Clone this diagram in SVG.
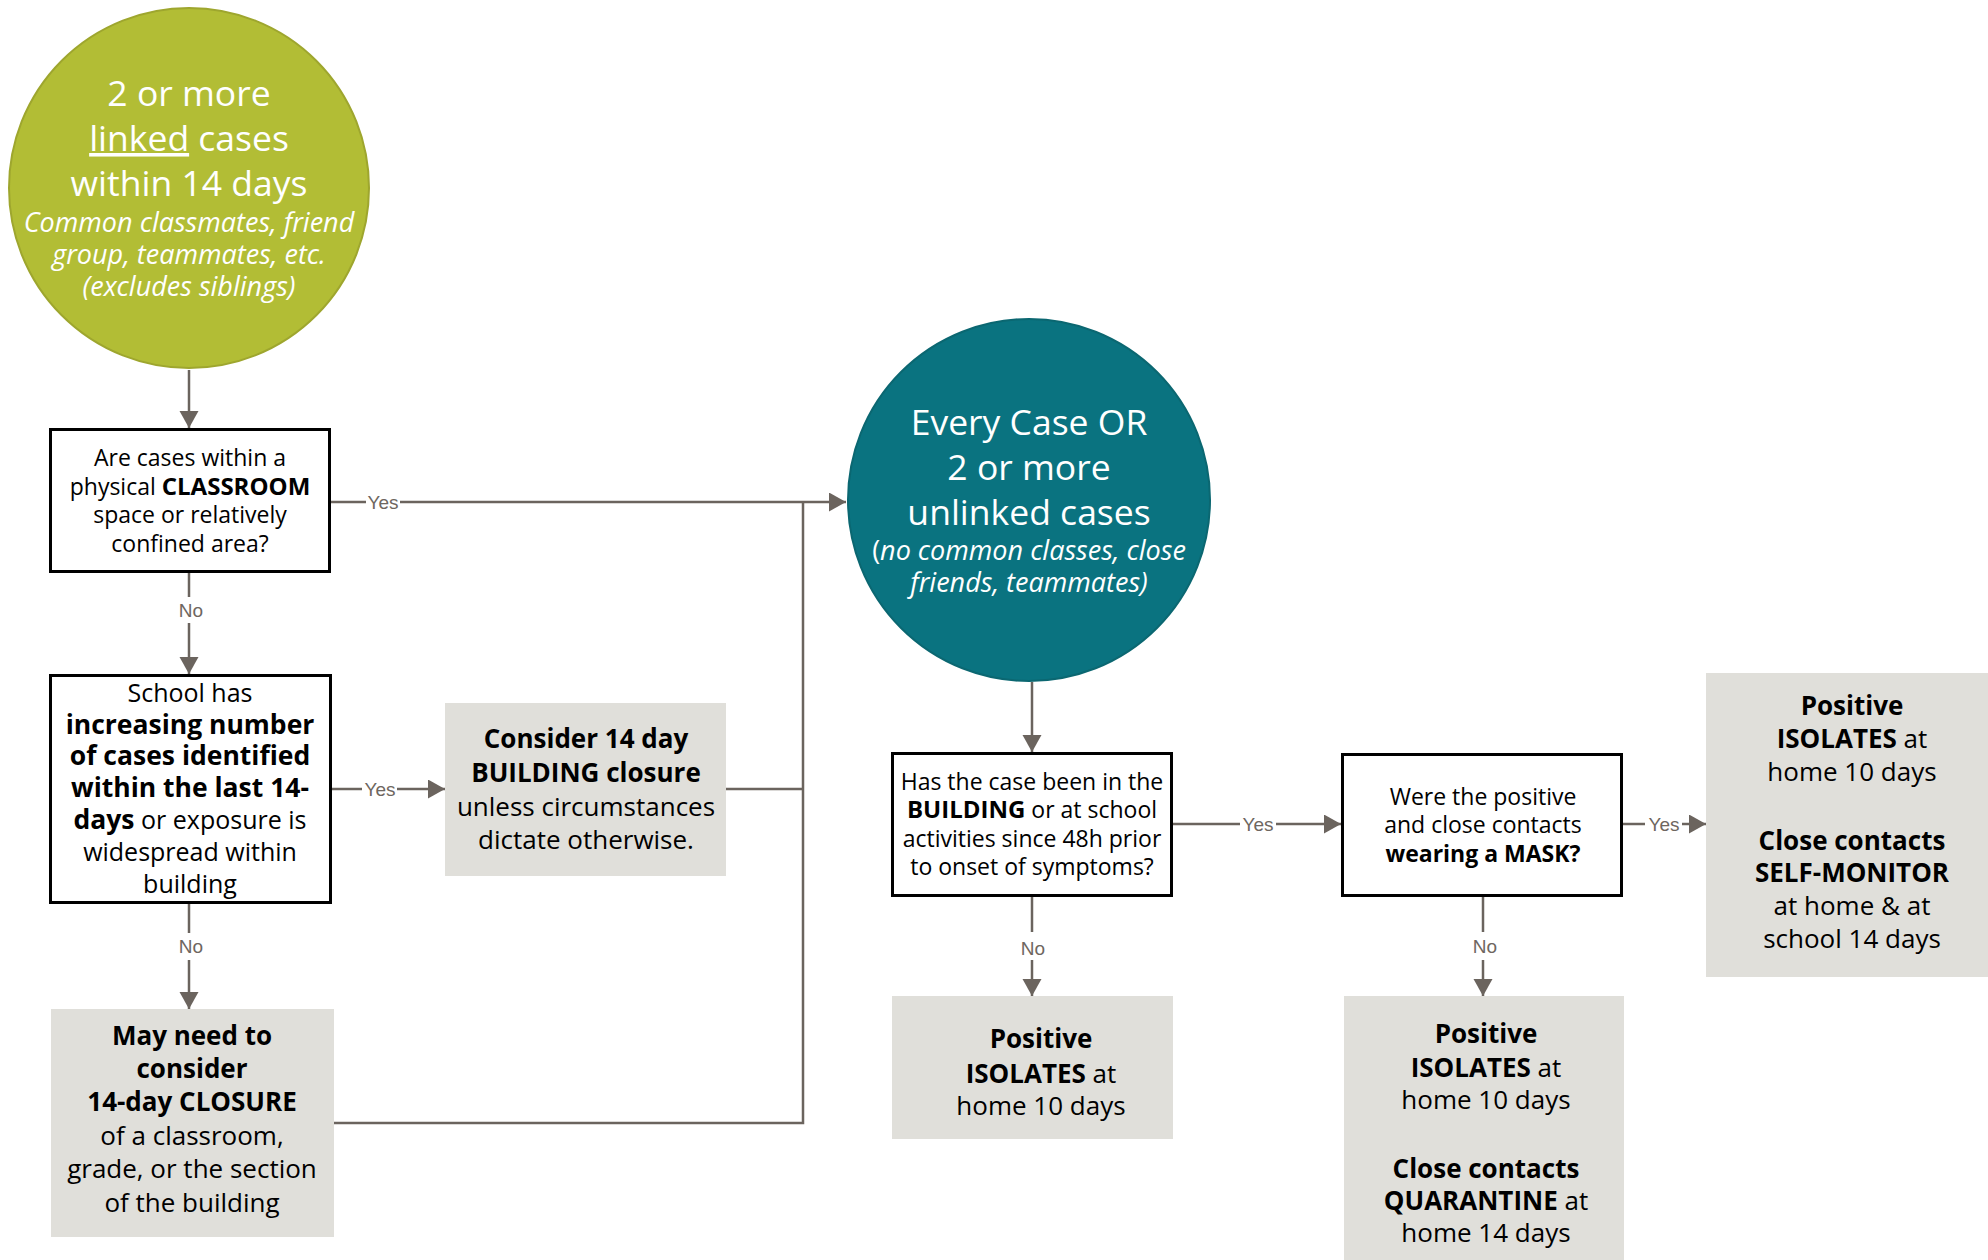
<svg xmlns="http://www.w3.org/2000/svg" width="1988" height="1260" viewBox="0 0 1988 1260">
<defs>
<marker id="arr" markerUnits="userSpaceOnUse" markerWidth="18" markerHeight="20" refX="17" refY="9.5" orient="auto">
<path d="M0,0 L17,9.5 L0,19 z" fill="#6b645e"/>
</marker>
<style>
.conn{fill:none;stroke:#6b645e;stroke-width:2.5}
.lbl{font-family:"Liberation Sans",Arial,sans-serif;font-size:19px;fill:#6e6660;text-anchor:middle}
.qbox{fill:#fff;stroke:#000;stroke-width:3}
.gbox{fill:#e0dfda}
.t{font-family:"Open Sans","Noto Sans",sans-serif;fill:#000;text-anchor:middle}
.q{font-size:23px}
.qb{font-size:24px;font-weight:700}
.q2{font-size:25px}
.q2b{font-size:26.5px;font-weight:700}
.g{font-size:26px}
.c{font-size:35.5px;fill:#fff}
.ci{font-size:27px;font-style:italic;fill:#fff}
.b{font-weight:700}
</style>
</defs>
<rect width="1988" height="1260" fill="#fff"/>

<g id="connectors">
<path class="conn" d="M189,370 V428" marker-end="url(#arr)"/>
<path class="conn" d="M331,502 H366"/>
<path class="conn" d="M400,502 H846" marker-end="url(#arr)"/>
<path class="conn" d="M189,573 V597"/>
<path class="conn" d="M189,623 V674" marker-end="url(#arr)"/>
<path class="conn" d="M332,789 H362"/>
<path class="conn" d="M397,789 H445" marker-end="url(#arr)"/>
<path class="conn" d="M726,789 H803"/>
<path class="conn" d="M334,1123 H803 V502"/>
<path class="conn" d="M189,904 V933"/>
<path class="conn" d="M189,960 V1009" marker-end="url(#arr)"/>
<path class="conn" d="M1032,682 V752" marker-end="url(#arr)"/>
<path class="conn" d="M1173,824 H1240"/>
<path class="conn" d="M1276,824 H1341" marker-end="url(#arr)"/>
<path class="conn" d="M1032,897 V932"/>
<path class="conn" d="M1032,960 V996" marker-end="url(#arr)"/>
<path class="conn" d="M1623,824 H1645"/>
<path class="conn" d="M1682,824 H1706" marker-end="url(#arr)"/>
<path class="conn" d="M1483,897 V932"/>
<path class="conn" d="M1483,960 V996" marker-end="url(#arr)"/>
<text class="lbl" x="383" y="509">Yes</text>
<text class="lbl" x="191" y="617">No</text>
<text class="lbl" x="380" y="796">Yes</text>
<text class="lbl" x="191" y="953">No</text>
<text class="lbl" x="1258" y="831">Yes</text>
<text class="lbl" x="1033" y="955">No</text>
<text class="lbl" x="1664" y="831">Yes</text>
<text class="lbl" x="1485" y="953">No</text>
</g>

<g id="linked-cases">
<circle cx="189" cy="188" r="180" fill="#b2bd35" stroke="#9ea62e" stroke-width="2"/>
<text class="t c" x="189" y="106">2 or more</text>
<text class="t c" x="189" y="151"><tspan text-decoration="underline">linked</tspan> cases</text>
<text class="t c" x="189" y="196">within 14 days</text>
<text class="t ci" x="189" y="232">Common classmates, friend</text>
<text class="t ci" x="189" y="264">group, teammates, etc.</text>
<text class="t ci" x="189" y="296">(excludes siblings)</text>
</g>

<g id="classroom-question">
<rect class="qbox" x="50.5" y="429.5" width="279" height="142"/>
<text class="t q" x="190" y="466">Are cases within a</text>
<text class="t q" x="190" y="495">physical <tspan class="qb">CLASSROOM</tspan></text>
<text class="t q" x="190" y="523">space or relatively</text>
<text class="t q" x="190" y="552">confined area?</text>
</g>

<g id="increasing-question">
<rect class="qbox" x="50.5" y="675.5" width="280" height="227"/>
<text class="t q2" x="190" y="702">School has</text>
<text class="t q2b" x="190" y="734">increasing number</text>
<text class="t q2b" x="190" y="765">of cases identified</text>
<text class="t q2b" x="190" y="797">within the last 14-</text>
<text class="t q2" x="190" y="829"><tspan class="q2b">days</tspan> or exposure is</text>
<text class="t q2" x="190" y="861">widespread within</text>
<text class="t q2" x="190" y="893">building</text>
</g>

<g id="building-closure">
<rect class="gbox" x="445" y="703" width="281" height="173"/>
<text class="t g b" x="586" y="748">Consider 14 day</text>
<text class="t g b" x="586" y="782">BUILDING closure</text>
<text class="t g" x="586" y="816">unless circumstances</text>
<text class="t g" x="586" y="849">dictate otherwise.</text>
</g>

<g id="section-closure">
<rect class="gbox" x="51" y="1009" width="283" height="228"/>
<text class="t g b" x="192" y="1045">May need to</text>
<text class="t g b" x="192" y="1078">consider</text>
<text class="t g b" x="192" y="1111">14-day CLOSURE</text>
<text class="t g" x="192" y="1145">of a classroom,</text>
<text class="t g" x="192" y="1178">grade, or the section</text>
<text class="t g" x="192" y="1212">of the building</text>
</g>

<g id="unlinked-cases">
<circle cx="1029" cy="500" r="181" fill="#0a7380" stroke="#0b6771" stroke-width="2"/>
<text class="t c" x="1029" y="435">Every Case OR</text>
<text class="t c" x="1029" y="480">2 or more</text>
<text class="t c" x="1029" y="525">unlinked cases</text>
<text class="t ci" x="1029" y="560"><tspan font-style="normal">(</tspan>no common classes, close</text>
<text class="t ci" x="1029" y="592">friends, teammates)</text>
</g>

<g id="building-question">
<rect class="qbox" x="892.5" y="753.5" width="279" height="142"/>
<text class="t q" x="1032" y="790">Has the case been in the</text>
<text class="t q" x="1032" y="818"><tspan class="qb">BUILDING</tspan> or at school</text>
<text class="t q" x="1032" y="847">activities since 48h prior</text>
<text class="t q" x="1032" y="875">to onset of symptoms?</text>
</g>

<g id="isolate-only">
<rect class="gbox" x="892" y="996" width="281" height="143"/>
<text class="t g b" x="1041" y="1048">Positive</text>
<text class="t g" x="1041" y="1083"><tspan class="b">ISOLATES</tspan> at</text>
<text class="t g" x="1041" y="1115">home 10 days</text>
</g>

<g id="mask-question">
<rect class="qbox" x="1342.5" y="754.5" width="279" height="141"/>
<text class="t q" x="1483" y="805">Were the positive</text>
<text class="t q" x="1483" y="833">and close contacts</text>
<text class="t q b" x="1483" y="862">wearing a MASK?</text>
</g>

<g id="self-monitor">
<rect class="gbox" x="1706" y="673" width="282" height="304"/>
<text class="t g b" x="1852" y="715">Positive</text>
<text class="t g" x="1852" y="748"><tspan class="b">ISOLATES</tspan> at</text>
<text class="t g" x="1852" y="781">home 10 days</text>
<text class="t g b" x="1852" y="850">Close contacts</text>
<text class="t g b" x="1852" y="882">SELF-MONITOR</text>
<text class="t g" x="1852" y="915">at home &amp; at</text>
<text class="t g" x="1852" y="948">school 14 days</text>
</g>

<g id="quarantine">
<rect class="gbox" x="1344" y="996" width="280" height="264"/>
<text class="t g b" x="1486" y="1043">Positive</text>
<text class="t g" x="1486" y="1077"><tspan class="b">ISOLATES</tspan> at</text>
<text class="t g" x="1486" y="1109">home 10 days</text>
<text class="t g b" x="1486" y="1178">Close contacts</text>
<text class="t g" x="1486" y="1210"><tspan class="b">QUARANTINE</tspan> at</text>
<text class="t g" x="1486" y="1242">home 14 days</text>
</g>
</svg>
